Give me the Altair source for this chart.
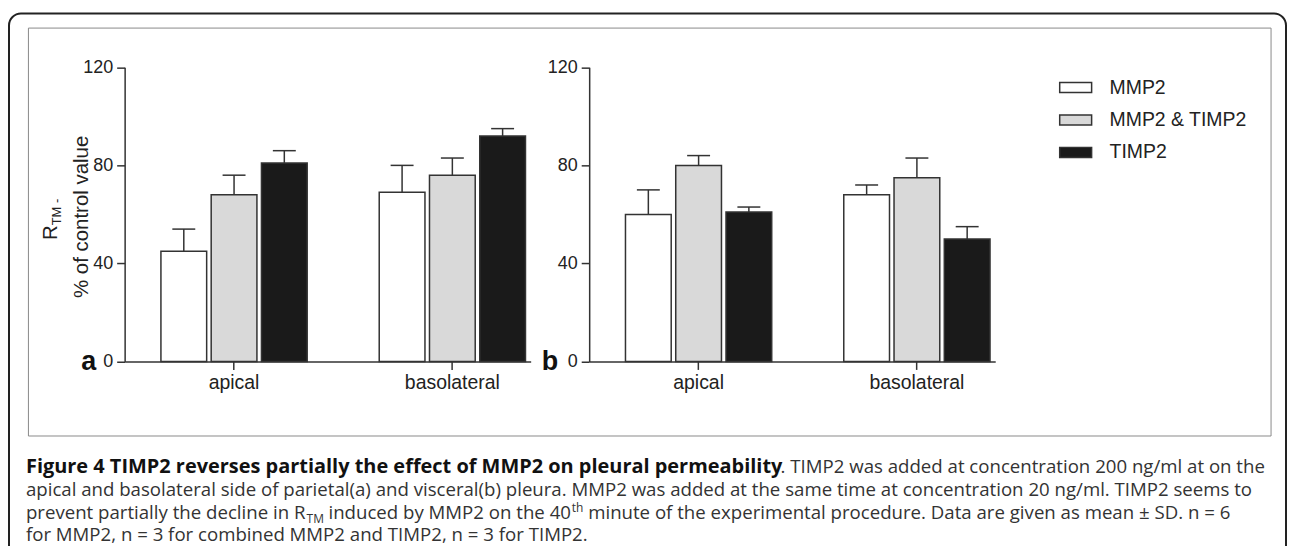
import altair as alt
import pandas as pd

# ---------------- data ----------------
sides = ["apical", "basolateral"]
series = ["MMP2", "MMP2 & TIMP2", "TIMP2"]
fills = ["#ffffff", "#d9d9d9", "#1a1a1a"]
y_ticks = [0, 40, 80, 120]

# panel a (parietal pleura)
a_mmp2 = [45, 69]
a_mmp2_sd = [9, 11]
a_combo = [68, 76]
a_combo_sd = [8, 7]
a_timp2 = [81, 92]
a_timp2_sd = [5, 3]

# panel b (visceral pleura)
b_mmp2 = [60, 68]
b_mmp2_sd = [10, 4]
b_combo = [80, 75]
b_combo_sd = [4, 8]
b_timp2 = [61, 50]
b_timp2_sd = [2, 5]

cap_bold = "Figure 4 TIMP2 reverses partially the effect of MMP2 on pleural permeability"
cap_1 = ". TIMP2 was added at concentration 200 ng/ml at on the"
cap_2 = ("apical and basolateral side of parietal(a) and visceral(b) pleura. MMP2 was added "
         "at the same time at concentration 20 ng/ml. TIMP2 seems to")
cap_3a = "prevent partially the decline in R"
cap_3sub = "TM"
cap_3b = "induced by MMP2 on the 40"
cap_3sup = "th"
cap_3c = "minute of the experimental procedure. Data are given as mean \u00b1 SD. n = 6"
cap_4 = "for MMP2, n = 3 for combined MMP2 and TIMP2, n = 3 for TIMP2."


def table(means, sds):
    rows = []
    for s, m_list, sd_list in zip(series, means, sds):
        for side, m, sd in zip(sides, m_list, sd_list):
            rows.append({"side": side, "series": s, "mean": m, "top": m + sd})
    return pd.DataFrame(rows)


df_a = table([a_mmp2, a_combo, a_timp2], [a_mmp2_sd, a_combo_sd, a_timp2_sd])
df_b = table([b_mmp2, b_combo, b_timp2], [b_mmp2_sd, b_combo_sd, b_timp2_sd])
one = pd.DataFrame({"k": [0]})

# ---------------- layout ----------------
W, H = 1283, 538
Y0, Y120 = 353.7, 58.7
FONT = "Liberation Sans"
CAPFONT = "Open Sans"
INK = "#333333"
CAPSIZE = 18.7

color = alt.Color(
    "series:N",
    scale=alt.Scale(domain=series, range=fills),
    legend=alt.Legend(
        title=None, orient="none", legendX=1055, legendY=63,
        symbolType="M-1.05,-0.33H1.05V0.33H-1.05Z", symbolSize=930,
        symbolStrokeColor=INK, symbolStrokeWidth=1.5, symbolOpacity=1,
        labelFont=FONT, labelFontSize=19.5, labelColor="#222222",
        labelOffset=18, rowPadding=6.5, padding=0,
    ),
)


def panel(df, x0, x1):
    yscale = alt.Scale(domain=[0, 120], range=[Y0, Y120], nice=False)
    xscale = alt.Scale(domain=sides, range=[x0, x1], paddingInner=0.33,
                       paddingOuter=0.095, align=0.875)
    xo = alt.XOffset("series:N", sort=series,
                     scale=alt.Scale(domain=series, paddingInner=0.09, paddingOuter=0))
    x_axis = alt.Axis(orient="bottom", offset=-(H - Y0), labelAngle=0,
                      tickSize=8, tickWidth=1.5, tickColor=INK,
                      domainColor=INK, domainWidth=1.5,
                      labelFont=FONT, labelFontSize=19.5, labelColor="#222222",
                      labelPadding=4, title=None, grid=False)
    y_axis = alt.Axis(orient="left", offset=-x0, values=y_ticks,
                      tickSize=8, tickWidth=1.5, tickColor=INK,
                      domainColor=INK, domainWidth=1.5,
                      labelFont=FONT, labelFontSize=18, labelColor="#222222",
                      labelPadding=4, title=None, grid=False)
    base = alt.Chart(df)
    bars = base.mark_bar(stroke=INK, strokeWidth=1.5, opacity=1).encode(
        x=alt.X("side:N", sort=sides, scale=xscale, axis=x_axis),
        xOffset=xo,
        y=alt.Y("mean:Q", scale=yscale, axis=y_axis),
        color=color,
    )
    stems = base.mark_rule(color=INK, strokeWidth=1.5).encode(
        x=alt.X("side:N", sort=sides, scale=xscale, axis=None),
        xOffset=xo,
        y=alt.Y("mean:Q", scale=yscale, axis=None),
        y2="top:Q",
    )
    caps = base.mark_tick(color=INK, thickness=1.5, size=23, opacity=1).encode(
        x=alt.X("side:N", sort=sides, scale=xscale, axis=None),
        xOffset=xo,
        y=alt.Y("top:Q", scale=yscale, axis=None),
    )
    return [bars, stems, caps]


def box(x1, x2, y1, y2, stroke, sw, r):
    return alt.Chart(one).mark_rect(fillOpacity=0, stroke=stroke, strokeWidth=sw,
                                    cornerRadius=r).encode(
        x=alt.value(x1), x2=alt.value(x2), y=alt.value(y1), y2=alt.value(y2))


def label(txt, x, y, size, font=FONT, weight="normal", color="#222222", angle=0,
          align="left", baseline="alphabetic"):
    return alt.Chart(one).mark_text(text=txt, font=font, fontSize=size, fontWeight=weight,
                                    color=color, angle=angle, align=align,
                                    baseline=baseline).encode(
        x=alt.value(x), y=alt.value(y))


outer = box(1, 1282, 4.7, 620, "#222222", 2, 12)
inner = box(20.5, 1267, 19.3, 428.5, "#8a8a8a", 1, 0)

pa = panel(df_a, 117, 524.3)
pb = panel(df_b, 583, 990.3)

texts = [
    label("a", 73.5, 362.7, 27, weight="bold", color="#111111"),
    label("b", 535.3, 362.7, 27, weight="bold", color="#111111"),
    label("% of control value", 80, 208.7, 20.5, angle=270, align="center"),
    label("R", 49, 232, 20.5, angle=270),
    label("TM -", 53, 217.2, 13, angle=270),
    # caption
    label(cap_bold, 18, 466, 20, font=CAPFONT, weight="bold", color="#111111"),
    label(cap_1, 775, 466, CAPSIZE, font=CAPFONT, color="#333333"),
    label(cap_2, 18, 489, CAPSIZE, font=CAPFONT, color="#333333"),
    label(cap_3a, 18, 512, CAPSIZE, font=CAPFONT, color="#333333"),
    label(cap_3sub, 299.5, 516, 12, font=CAPFONT, color="#333333"),
    label(cap_3b, 321.5, 512, CAPSIZE, font=CAPFONT, color="#333333"),
    label(cap_3sup, 565.5, 505, 12, font=CAPFONT, color="#333333"),
    label(cap_3c, 582, 512, CAPSIZE, font=CAPFONT, color="#333333"),
    label(cap_4, 18, 534, CAPSIZE, font=CAPFONT, color="#333333"),
]

chart = alt.layer(outer, inner, *pa, *pb, *texts).resolve_scale(
    x="independent", y="independent", xOffset="independent"
).resolve_axis(
    x="independent", y="independent"
).properties(
    width=W, height=H, autosize=alt.AutoSizeParams(type="none"),
    padding={"left": 0, "top": 0, "right": 0, "bottom": 0},
    background="#ffffff",
).configure_view(strokeWidth=0)

chart.save("out.html", embed_options={"renderer": "svg", "actions": False})
